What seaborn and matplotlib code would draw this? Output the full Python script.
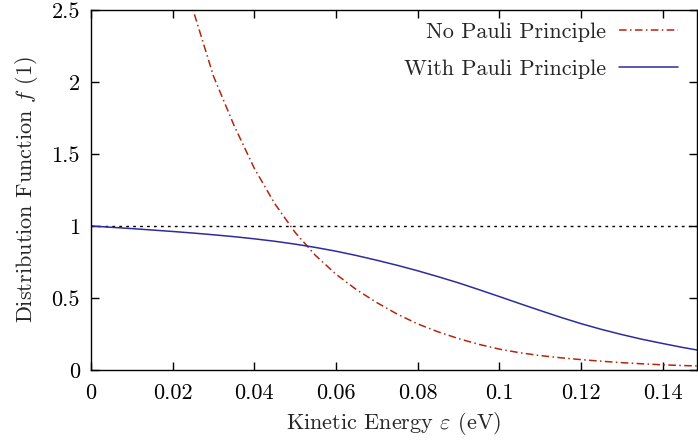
import matplotlib
matplotlib.use('Agg')
import matplotlib.pyplot as plt
import seaborn as sns
import pandas as pd
from matplotlib.ticker import FuncFormatter

# Values
energy_nopauli = [0.024, 0.025, 0.030, 0.035, 0.040, 0.045, 0.050, 0.055, 0.060,
                  0.065, 0.070, 0.075, 0.080, 0.085, 0.090, 0.095, 0.100, 0.105,
                  0.110, 0.115, 0.120, 0.125, 0.130, 0.135, 0.140, 0.145, 0.150]
f_nopauli = [2.61, 2.50, 2.04, 1.70, 1.40, 1.155, 0.955, 0.795, 0.665,
             0.558, 0.468, 0.388, 0.320, 0.265, 0.218, 0.178, 0.145, 0.120,
             0.100, 0.085, 0.072, 0.061, 0.051, 0.043, 0.036, 0.031, 0.027]

energy_pauli = [0.000, 0.005, 0.010, 0.015, 0.020, 0.025, 0.030, 0.035, 0.040,
                0.045, 0.050, 0.055, 0.060, 0.065, 0.070, 0.075, 0.080, 0.085,
                0.090, 0.095, 0.100, 0.105, 0.110, 0.115, 0.120, 0.125, 0.130,
                0.135, 0.140, 0.145, 0.150]
f_pauli = [1.000, 0.991, 0.982, 0.972, 0.962, 0.951, 0.939, 0.926, 0.911,
           0.894, 0.874, 0.851, 0.825, 0.795, 0.762, 0.727, 0.689, 0.648,
           0.605, 0.558, 0.510, 0.461, 0.413, 0.366, 0.322, 0.282, 0.246,
           0.213, 0.184, 0.156, 0.131]

x_ticks = [0, 0.02, 0.04, 0.06, 0.08, 0.10, 0.12, 0.14]
y_ticks = [0, 0.5, 1, 1.5, 2, 2.5]

sns.set_theme(style='ticks')
plt.rcParams['font.family'] = ['cmr10', 'DejaVu Serif']
plt.rcParams['mathtext.fontset'] = 'cm'
plt.rcParams['axes.unicode_minus'] = False

df_np = pd.DataFrame({'energy': energy_nopauli, 'f': f_nopauli})
df_p = pd.DataFrame({'energy': energy_pauli, 'f': f_pauli})

fig, ax = plt.subplots(figsize=(6.98, 4.40), dpi=100)
fig.subplots_adjust(left=91/698, right=697/698, bottom=1-370/440, top=1-10/440)

# reference level f = 1
ax.axhline(1.0, color='black', lw=1.0, linestyle=(0, (2, 3)), zorder=1)

sns.lineplot(data=df_np, x='energy', y='f', ax=ax, color='#b3260c', lw=1.1,
             linestyle=(0, (5, 2.2, 1, 2.2)), estimator=None,
             label='No Pauli Principle')
sns.lineplot(data=df_p, x='energy', y='f', ax=ax, color='#2c2c9c', lw=1.1,
             estimator=None, label='With Pauli Principle')

ax.set_xlim(0, 0.1484)
ax.set_ylim(0, 2.5)
ax.set_xticks(x_ticks)
ax.set_yticks(y_ticks)
fmt = FuncFormatter(lambda v, p: '%g' % round(v, 6))
ax.xaxis.set_major_formatter(fmt)
ax.yaxis.set_major_formatter(fmt)
ax.tick_params(direction='in', length=6, width=1.0, colors='black',
               top=True, right=True, labelsize=16)
ax.tick_params(axis='x', pad=10)
ax.tick_params(axis='y', pad=8)
for s in ax.spines.values():
    s.set_color('black')
    s.set_linewidth(1.0)

ax.set_xlabel(r'Kinetic Energy $\varepsilon$ (eV)', fontsize=16, labelpad=5)
ax.set_ylabel(r'Distribution Function $f$ (1)', fontsize=16, labelpad=8)

ax.legend(loc='upper right', bbox_to_anchor=(1 - 19/606, 1 - 12/360),
          frameon=False, markerfirst=False, fontsize=16, handlelength=2.65,
          handletextpad=0.6, labelspacing=0.8, borderpad=0, borderaxespad=0)

fig.savefig('out.png', dpi=100)
